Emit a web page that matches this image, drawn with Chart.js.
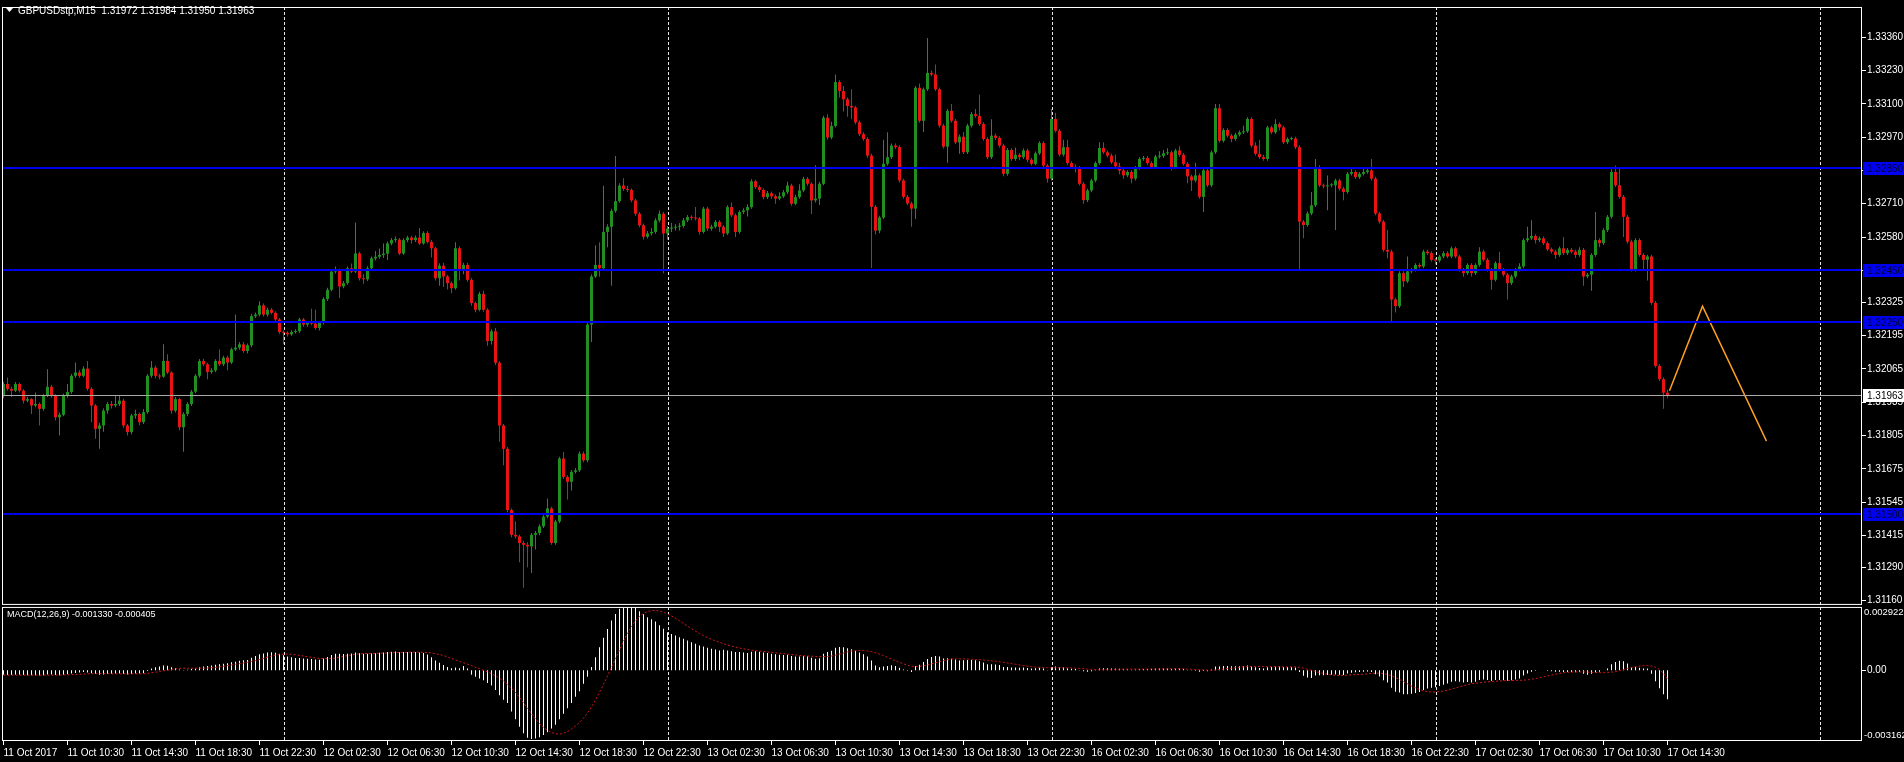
<!DOCTYPE html>
<html>
<head>
<meta charset="utf-8">
<title>GBPUSDstp,M15</title>
<script src="https://cdn.jsdelivr.net/npm/chart.js@4.4.1/dist/chart.umd.min.js"></script>
<style>
  html, body { margin: 0; padding: 0; background: #000; }
  canvas { display: block; }
</style>
</head>
<body>
<canvas id="gbpusdChart" width="1904" height="762"></canvas>
<script>
// M15 bars, prices in pips above 1.3100, open of each bar = previous close
const BASE = 1.31;
const PIP = 0.0001;
const firstOpen = 96.0;
const closes = [
  100.6,98.7,98.0,100.6,98.0,94.1,94.7,92.2,92.8,90.9,
  96.0,99.5,96.0,87.6,88.6,96.0,97.5,103.8,105.1,103.8,
  106.6,98.7,92.2,83.1,84.4,90.2,92.8,92.2,92.8,94.1,
  84.4,81.8,88.3,88.9,85.7,89.6,103.8,107.0,103.8,103.5,
  109.6,105.1,90.2,94.7,83.7,88.9,92.8,97.6,103.8,109.6,
  108.3,105.3,105.9,109.6,108.3,110.9,109.0,114.1,114.8,116.1,
  113.5,115.7,127.1,127.7,131.3,127.7,129.6,128.4,125.8,120.9,
  120.6,120.0,120.9,121.2,125.8,123.8,124.5,124.2,122.5,124.5,
  133.8,137.4,144.5,145.0,138.7,140.0,145.8,144.5,151.6,141.9,
  141.5,145.8,149.7,150.3,151.0,151.5,155.5,156.8,157.0,151.6,
  156.8,157.8,156.8,157.8,155.5,159.6,156.1,153.6,141.9,146.8,
  142.6,140.0,138.0,153.6,145.2,147.1,141.3,132.2,129.6,135.8,
  129.6,117.4,121.2,108.9,84.4,75.3,51.4,41.7,41.1,38.5,
  37.8,37.2,41.7,42.4,45.0,48.8,52.0,38.5,46.9,71.5,
  64.3,62.4,66.3,66.9,73.4,70.8,123.8,142.6,147.1,145.8,
  160.0,162.0,168.2,172.0,178.1,176.8,176.4,172.3,167.1,162.6,
  158.1,159.4,160.0,164.5,167.1,159.4,161.3,161.6,162.0,162.3,
  164.5,165.8,165.5,165.2,160.0,169.1,161.3,162.0,163.9,162.0,
  159.4,169.7,166.5,160.0,167.8,168.4,169.7,179.8,177.5,176.4,
  173.6,175.1,173.9,173.0,173.9,175.5,178.1,171.0,173.6,176.2,
  180.7,178.8,172.3,173.0,178.8,204.6,196.9,201.4,218.5,215.0,
  211.8,209.2,208.6,202.8,198.2,196.3,189.8,169.8,160.5,165.6,
  186.6,189.2,193.7,193.1,180.1,173.7,171.1,169.1,216.3,203.4,
  215.7,222.1,221.5,215.7,201.5,193.3,207.3,203.4,195.0,197.2,
  191.1,201.5,206.0,205.3,202.1,196.3,189.2,197.6,196.7,193.7,
  182.7,192.0,188.5,190.1,189.2,191.8,188.2,186.6,190.7,194.7,
  185.9,180.8,204.1,199.5,190.2,193.1,186.9,185.3,185.0,178.8,
  172.4,176.2,180.1,186.9,192.8,191.1,189.8,187.2,185.6,184.0,
  182.1,183.4,180.8,185.0,188.5,188.9,186.9,185.3,189.4,189.7,
  190.7,191.1,185.3,191.8,190.1,186.6,181.7,180.1,182.1,173.7,
  184.0,178.2,191.1,208.3,195.6,199.8,197.6,196.3,198.0,198.9,
  199.3,204.1,193.7,190.5,189.2,188.5,200.8,198.9,202.1,200.8,
  195.0,196.3,196.5,193.1,164.0,162.7,167.2,170.4,185.3,178.2,
  177.8,178.2,178.2,180.1,176.9,175.6,182.7,183.4,181.4,182.7,
  183.4,184.0,180.8,167.2,164.0,153.0,152.3,133.6,131.0,143.9,
  140.7,144.6,145.2,147.1,146.5,152.3,151.7,149.1,148.8,150.4,
  151.7,150.4,153.6,150.4,145.2,143.9,147.1,143.9,147.1,152.3,
  149.1,145.2,141.3,147.8,145.2,143.3,140.0,142.6,145.2,146.5,
  156.8,157.5,158.4,156.8,157.5,155.6,153.2,152.3,151.0,153.6,
  151.7,153.0,152.3,151.0,153.0,142.6,143.3,151.0,156.8,155.6,
  160.7,165.9,183.4,178.2,173.7,165.9,156.2,145.2,156.8,151.0,
  149.1,150.4,132.3,107.7,102.5,97.2,96.3
];
const highs = [
  101.5,103.1,99.5,101.4,101.2,98.6,95.6,95.0,97.3,93.4,
  96.7,106.4,100.2,96.6,89.5,96.8,100.6,104.5,109.0,106.0,
  107.5,109.6,99.3,92.8,85.5,91.0,93.6,94.0,96.0,96.0,
  94.8,85.0,89.0,90.5,89.5,90.8,104.5,109.6,107.8,104.6,
  116.1,112.2,105.6,95.5,95.2,89.6,93.5,98.3,104.5,110.4,
  110.5,108.9,106.8,110.3,114.1,111.6,111.6,114.8,127.7,117.0,
  117.0,116.4,127.9,128.5,132.9,132.0,130.4,130.3,129.0,126.4,
  121.6,121.2,121.6,122.0,126.5,126.4,125.2,130.0,129.6,125.2,
  134.5,138.2,145.3,146.5,145.6,140.8,146.5,147.7,163.7,152.3,
  143.5,146.6,150.4,152.5,153.5,155.5,156.3,157.6,158.2,157.6,
  157.5,158.5,158.4,158.6,161.5,160.3,160.3,156.8,154.2,147.8,
  148.0,143.2,140.6,156.0,154.4,148.0,148.0,142.0,132.8,136.6,
  137.0,130.2,122.0,122.5,109.5,85.0,76.0,52.0,46.9,41.7,
  39.4,38.8,42.4,43.2,45.8,49.6,55.9,52.7,47.6,72.2,
  74.0,65.0,67.0,67.8,74.2,74.2,124.6,143.4,154.8,156.0,
  178.0,163.0,169.0,189.6,179.0,181.0,178.0,177.0,173.0,167.8,
  163.3,160.4,161.4,165.3,168.4,167.8,162.3,163.6,163.0,163.5,
  165.4,166.6,166.5,169.7,165.8,169.8,169.8,162.8,164.7,164.6,
  162.6,170.4,171.5,167.2,168.5,169.2,170.8,180.6,180.4,178.2,
  177.0,176.0,175.8,174.6,175.5,176.4,179.6,178.8,174.5,178.6,
  181.5,181.4,179.4,186.0,179.6,205.4,206.0,203.0,221.5,219.2,
  217.0,212.5,215.7,209.3,203.5,198.9,197.0,190.5,170.5,166.3,
  196.0,198.9,194.5,194.5,193.8,180.8,174.4,171.8,217.0,218.0,
  216.4,235.7,223.0,225.4,216.4,202.2,208.0,210.0,204.1,198.0,
  199.0,202.2,206.8,208.0,213.7,202.8,197.0,204.0,198.4,197.4,
  194.4,192.8,192.7,193.0,190.8,192.6,192.5,188.9,191.4,195.4,
  195.4,186.6,208.0,206.5,200.2,196.0,196.0,187.6,186.4,185.7,
  179.5,176.9,180.8,187.6,195.0,195.0,191.8,190.5,190.2,187.0,
  184.7,184.1,184.1,185.7,189.2,189.6,189.6,187.6,190.1,191.5,
  192.0,192.7,191.8,192.5,193.5,190.8,187.3,182.4,187.0,182.8,
  184.7,184.7,191.8,210.0,210.0,200.5,200.5,198.3,198.7,199.6,
  201.5,204.8,204.8,195.0,196.0,190.0,201.5,201.5,204.0,202.8,
  201.5,197.0,197.2,197.2,193.8,164.7,168.0,175.6,188.5,186.0,
  178.9,182.0,179.0,180.8,180.8,177.6,183.4,184.6,184.1,183.4,
  184.7,185.4,188.5,181.5,167.9,164.7,160.7,153.0,134.3,144.6,
  144.6,150.4,145.9,147.8,147.8,153.0,153.0,152.4,149.8,151.1,
  152.4,152.4,154.3,154.3,151.1,145.9,147.8,147.8,147.8,154.0,
  153.0,149.8,145.9,148.5,152.3,145.9,144.0,143.3,145.9,147.8,
  157.5,162.0,164.6,159.1,158.2,158.2,156.3,153.9,153.0,154.3,
  158.0,153.7,153.7,153.0,154.0,153.7,144.0,151.7,167.8,157.5,
  161.4,166.6,184.5,185.9,185.3,174.4,166.6,156.9,157.5,157.5,
  151.7,151.1,151.1,133.0,108.4,103.2,98.4
];
const lows = [
  95.0,98.0,95.4,97.5,97.3,93.0,93.5,88.9,91.5,84.4,
  90.2,95.4,95.2,86.3,80.5,88.0,95.2,96.8,103.0,103.0,
  103.2,98.0,85.7,79.2,75.3,82.0,89.0,91.0,91.5,92.0,
  83.5,80.5,81.0,87.0,84.5,85.0,89.0,103.0,102.8,102.5,
  103.0,104.5,89.0,89.5,82.5,74.1,88.0,92.0,97.0,103.0,
  107.5,102.5,104.6,105.2,107.6,107.6,106.0,108.4,113.5,114.0,
  112.8,112.5,115.0,126.4,127.0,127.0,127.0,127.8,125.0,120.2,
  116.1,119.2,119.4,120.3,120.6,123.0,123.0,123.5,121.8,121.5,
  123.8,133.0,136.8,143.8,134.2,138.0,139.4,144.0,144.0,141.0,
  139.8,140.8,145.0,148.8,149.5,149.8,149.0,154.8,155.9,151.0,
  151.0,156.0,155.5,156.1,154.9,155.0,155.5,150.0,141.0,139.0,
  138.5,137.5,136.0,137.4,141.0,143.5,140.5,131.2,128.6,129.0,
  128.8,115.5,116.0,108.0,78.0,68.9,50.5,40.8,40.4,31.0,
  21.0,29.0,26.8,36.0,41.5,44.4,48.2,37.8,37.8,46.2,
  63.5,55.5,59.0,65.6,66.2,70.0,70.0,117.0,142.0,142.5,
  145.0,154.0,139.0,167.5,171.4,176.0,175.6,171.6,166.3,161.8,
  157.0,157.4,158.6,159.3,163.8,143.9,157.0,160.0,160.6,160.6,
  161.6,163.8,164.6,164.5,159.0,159.4,160.4,160.5,161.3,160.0,
  158.0,158.8,165.8,158.0,159.3,167.0,166.0,169.0,176.8,175.6,
  172.8,172.9,173.0,171.0,172.4,173.2,174.8,170.2,170.4,173.0,
  175.5,178.0,167.0,171.5,170.5,178.2,196.0,196.2,200.8,212.5,
  207.0,205.0,204.0,202.0,197.5,195.6,189.0,145.9,159.0,159.5,
  165.0,185.9,188.5,192.4,179.3,173.0,170.4,162.0,165.0,202.6,
  199.0,215.0,220.8,215.0,200.8,192.6,187.0,202.7,194.3,190.5,
  190.4,190.4,200.8,204.6,201.4,195.6,188.5,188.5,195.9,193.0,
  181.7,181.9,187.8,187.8,188.0,188.5,187.2,185.9,186.0,190.0,
  185.2,179.2,180.1,198.8,189.5,189.5,186.2,184.6,183.2,178.1,
  171.0,171.7,175.5,179.4,186.2,190.4,189.1,186.5,184.9,182.5,
  180.8,181.4,179.0,180.1,184.3,187.8,186.2,184.6,184.6,188.7,
  189.0,190.0,184.0,184.6,189.4,185.9,179.0,176.0,179.4,173.0,
  167.8,177.5,177.5,190.4,194.9,194.9,196.9,195.0,195.6,197.3,
  198.2,198.6,193.0,189.8,188.5,187.8,187.8,198.2,198.2,199.6,
  194.3,194.3,195.8,192.4,145.2,157.5,162.0,166.5,169.7,177.5,
  177.1,168.5,177.4,160.7,176.2,172.4,174.9,182.0,180.7,180.7,
  182.0,182.7,180.1,166.5,163.3,152.3,149.7,124.5,128.5,130.3,
  138.5,140.0,143.9,144.5,145.8,145.8,151.0,148.4,147.3,148.1,
  149.7,149.7,149.7,149.7,144.5,142.5,143.2,142.6,143.2,146.4,
  148.4,144.5,137.4,140.6,144.5,142.6,133.6,139.3,141.9,144.5,
  145.8,156.1,156.8,155.5,156.1,154.9,152.5,151.6,149.5,150.3,
  151.0,151.0,151.6,149.8,150.3,139.0,141.9,137.0,150.3,154.0,
  154.9,160.0,165.2,177.5,173.0,158.0,155.5,144.5,144.5,150.3,
  145.0,141.0,131.6,107.0,101.8,90.9,95.0
];

// MACD(12,26,9) main and signal, in units of 0.00001
const macdMain = [
  -20,-21,-21,-20,-20,-21,-22,-23,-23,-24,
  -22,-19,-19,-21,-22,-20,-18,-15,-12,-10,
  -8,-10,-13,-17,-20,-19,-17,-16,-15,-14,
  -17,-19,-17,-15,-15,-13,-3,8,14,18,
  22,21,14,11,4,2,3,6,9,14,
  18,20,22,26,28,31,33,37,40,44,
  46,48,58,66,74,78,82,83,81,76,
  70,64,60,57,57,55,54,52,50,49,
  55,62,71,76,76,75,77,78,82,79,
  76,76,78,79,81,82,85,86,87,83,
  84,85,84,84,82,80,73,60,45,35,
  25,15,10,13,10,20,8,-20,-30,-38,
  -45,-58,-70,-90,-115,-135,-150,-190,-225,-260,
  -290,-310,-316,-314,-308,-298,-285,-268,-250,-225,
  -200,-175,-150,-122,-96,-62,-29,15,60,106,
  150,191,230,259,284,289,292,291,289,272,
  258,245,235,225,208,192,176,168,160,152,
  146,138,130,123,115,110,104,100,96,92,
  95,92,88,84,84,82,80,86,88,86,
  82,80,77,74,72,71,72,66,64,64,
  66,65,58,54,56,76,84,90,104,108,
  106,102,97,90,82,74,64,45,22,14,
  18,20,24,20,12,4,-2,-8,20,26,
  38,52,62,66,64,55,56,54,50,45,
  46,48,48,46,42,36,28,28,27,25,
  15,15,13,13,12,13,11,9,10,12,
  8,2,15,18,14,14,10,7,6,2,
  -4,-6,-4,2,8,10,10,9,8,7,
  5,5,3,4,5,6,6,7,8,8,
  9,9,6,8,8,6,2,-1,-2,-6,
  -3,-4,4,18,18,20,20,19,19,19,
  20,22,18,14,11,9,14,15,18,18,
  16,15,15,13,-8,-25,-33,-35,-24,-22,
  -22,-21,-20,-19,-20,-21,-15,-11,-9,-7,
  -6,-5,-7,-18,-28,-45,-56,-80,-98,-102,
  -110,-110,-108,-104,-100,-90,-84,-80,-78,-72,
  -66,-60,-52,-50,-52,-56,-54,-56,-52,-44,
  -42,-44,-48,-44,-44,-46,-48,-46,-42,-38,
  -24,-14,-6,-2,0,0,-2,-4,-6,-6,
  -7,-8,-8,-9,-8,-16,-20,-16,-10,-6,
  0,8,28,38,44,42,32,14,16,12,
  8,8,-16,-50,-82,-110,-133
];
const macdSignal = [
  -22,-22,-22,-22,-22,-22,-22,-22,-22,-22,
  -22,-22,-22,-22,-22,-21,-21,-20,-19,-18,
  -17,-16,-15,-15,-15,-15,-15,-16,-16,-16,
  -16,-16,-16,-16,-16,-16,-14,-11,-8,-5,
  -2,1,4,7,9,10,10,10,10,10,
  10,11,12,14,16,19,22,25,28,31,
  34,37,41,45,50,55,61,66,70,73,
  75,75,74,72,69,66,63,60,57,55,
  54,54,55,57,60,64,68,71,74,76,
  77,78,78,78,79,79,80,81,82,82,
  83,83,84,84,84,83,82,80,77,73,
  68,62,55,48,41,35,29,22,14,7,
  0,-7,-15,-25,-36,-49,-64,-82,-102,-125,
  -150,-175,-200,-224,-245,-262,-276,-286,-292,-294,
  -290,-282,-270,-256,-240,-220,-196,-168,-136,-101,
  -64,-26,14,54,94,134,170,202,228,248,
  262,271,275,276,273,268,260,250,240,228,
  216,204,192,181,170,160,151,143,136,129,
  123,117,112,107,103,99,96,93,91,89,
  87,85,83,81,79,77,75,73,71,69,
  67,66,65,64,63,63,64,66,70,75,
  80,85,89,91,92,91,89,86,81,75,
  68,60,52,44,37,30,24,19,17,18,
  21,25,30,35,40,45,49,52,53,53,
  53,52,51,50,49,48,46,44,42,40,
  37,34,31,28,25,22,19,17,15,14,
  13,12,12,12,12,12,12,11,10,9,
  8,6,5,4,3,3,3,3,4,5,
  6,6,6,6,6,6,6,6,6,6,
  7,7,7,7,7,7,6,5,4,3,
  2,1,1,2,4,6,8,10,12,14,
  16,17,18,18,18,18,17,17,17,16,
  16,16,16,16,14,10,5,0,-5,-10,
  -14,-18,-21,-23,-23,-23,-22,-21,-20,-19,
  -18,-16,-14,-13,-13,-15,-19,-25,-33,-42,
  -52,-62,-72,-80,-88,-94,-98,-100,-100,-98,
  -95,-91,-86,-81,-76,-71,-66,-62,-59,-57,
  -55,-53,-51,-50,-49,-48,-47,-47,-46,-46,
  -45,-44,-41,-38,-34,-30,-26,-22,-18,-14,
  -11,-9,-8,-7,-7,-7,-8,-9,-10,-11,
  -11,-10,-8,-5,-1,4,9,13,17,20,
  22,22,20,14,4,-15,-40
];

// one time label every 16 bars (4 hours)
const timeLabels = [
  '11 Oct 2017', '11 Oct 10:30', '11 Oct 14:30', '11 Oct 18:30', '11 Oct 22:30',
  '12 Oct 02:30', '12 Oct 06:30', '12 Oct 10:30', '12 Oct 14:30', '12 Oct 18:30', '12 Oct 22:30',
  '13 Oct 02:30', '13 Oct 06:30', '13 Oct 10:30', '13 Oct 14:30', '13 Oct 18:30', '13 Oct 22:30',
  '16 Oct 02:30', '16 Oct 06:30', '16 Oct 10:30', '16 Oct 14:30', '16 Oct 18:30', '16 Oct 22:30',
  '17 Oct 02:30', '17 Oct 06:30', '17 Oct 10:30', '17 Oct 14:30'
];
const labelStep = 16;
const priceTicks = [
  1.33360, 1.33230, 1.33100, 1.32970, 1.32840, 1.32710, 1.32580, 1.32450, 1.32325,
  1.32195, 1.32065, 1.31935, 1.31805, 1.31675, 1.31545, 1.31415, 1.31290, 1.31160
];
const macdMax = 0.002922;
const macdMin = -0.003162;
const levelPrices = [1.32850, 1.32450, 1.32250, 1.31500];
const bidPrice = 1.31963;
const daySeparatorBars = [70, 166, 262, 358, 454];
const forecastBars = [416.5, 424.75, 440.75];
const forecastPrices = [1.31980, 1.32310, 1.31783];

const headerText = 'GBPUSDstp,M15  1.31972 1.31984 1.31950 1.31963';
const macdText = 'MACD(12,26,9) -0.001330 -0.000405';

const opens = [firstOpen].concat(closes.slice(0, -1));
const toPrice = p => +(BASE + p * PIP).toFixed(5);
const BULL = '#1f8f1f';
const BEAR = '#e81414';
const candleColors = closes.map((c, i) => (c >= opens[i] ? BULL : BEAR));
const bodyData = closes.map((c, i) => ({ x: i, y: [toPrice(opens[i]), toPrice(c)] }));
const wickData = closes.map((c, i) => ({ x: i, y: [toPrice(lows[i]), toPrice(highs[i])] }));
const macdData = macdMain.map((v, i) => ({ x: i, y: v * 1e-5 }));
const signalData = macdSignal.map((v, i) => ({ x: i, y: v * 1e-5 }));
const forecastData = forecastBars.map((b, i) => ({ x: b, y: forecastPrices[i] }));

const FONT = "'Liberation Sans', Arial, sans-serif";
Chart.defaults.font.family = FONT;
Chart.defaults.font.size = 10;
Chart.defaults.color = '#ffffff';

const mt4Overlay = {
  id: 'mt4Overlay',
  beforeDatasetsDraw(chart) {
    const { ctx, chartArea, scales } = chart;
    ctx.save();
    ctx.strokeStyle = '#e8e8e8';
    ctx.lineWidth = 1;
    ctx.setLineDash([3, 2]);
    daySeparatorBars.forEach(b => {
      const x = Math.round(scales.x.getPixelForValue(b)) + 0.5;
      ctx.beginPath();
      ctx.moveTo(x, chartArea.top);
      ctx.lineTo(x, chartArea.bottom);
      ctx.stroke();
    });
    ctx.restore();
  },
  afterDatasetsDraw(chart) {
    const { ctx, chartArea, scales } = chart;
    const y = scales.y, y2 = scales.y2;
    ctx.save();
    ctx.strokeStyle = '#0000f0';
    ctx.lineWidth = 2;
    levelPrices.forEach(p => {
      const py = Math.round(y.getPixelForValue(p));
      ctx.beginPath();
      ctx.moveTo(chartArea.left, py);
      ctx.lineTo(chartArea.right, py);
      ctx.stroke();
    });
    ctx.strokeStyle = '#a8a8a8';
    ctx.lineWidth = 1;
    const by = Math.round(y.getPixelForValue(bidPrice)) + 0.5;
    ctx.beginPath();
    ctx.moveTo(chartArea.left, by);
    ctx.lineTo(chartArea.right, by);
    ctx.stroke();

    // window frames
    ctx.strokeStyle = '#ffffff';
    const l = chartArea.left + 0.5, r = chartArea.right - 0.5;
    ctx.strokeRect(l, y.top + 0.5, r - l, y.bottom - y.top - 1);
    ctx.strokeRect(l, y2.top + 2.5, r - l, y2.bottom - y2.top - 3);
    ctx.restore();
  },
  afterDraw(chart) {
    const { ctx, chartArea, scales } = chart;
    const y = scales.y, y2 = scales.y2;
    const ax = chartArea.right;
    ctx.save();
    ctx.font = '10px ' + FONT;
    ctx.textBaseline = 'middle';
    ctx.textAlign = 'left';

    levelPrices.forEach(p => {
      const py = Math.round(y.getPixelForValue(p));
      ctx.fillStyle = '#0000f0';
      ctx.fillRect(ax + 1, py - 6, 42, 13);
      ctx.fillStyle = '#000038';
      ctx.fillText(p.toFixed(5), ax + 5, py + 1);
    });
    const by = Math.round(y.getPixelForValue(bidPrice));
    ctx.fillStyle = '#ffffff';
    ctx.fillRect(ax + 1, by - 6, 42, 13);
    ctx.fillStyle = '#000000';
    ctx.fillText(bidPrice.toFixed(5), ax + 5, by + 1);

    // MACD window scale
    ctx.fillStyle = '#ffffff';
    ctx.strokeStyle = '#ffffff';
    ctx.font = '9.5px ' + FONT;
    ctx.textBaseline = 'top';
    ctx.fillText(macdMax.toFixed(6), ax + 2, y2.getPixelForValue(macdMax) + 1);
    ctx.textBaseline = 'bottom';
    ctx.fillText(macdMin.toFixed(6), ax + 2, y2.getPixelForValue(macdMin) + 1);
    const zy = Math.round(y2.getPixelForValue(0)) + 0.5;
    ctx.beginPath();
    ctx.moveTo(ax, zy);
    ctx.lineTo(ax + 4, zy);
    ctx.stroke();
    ctx.textBaseline = 'middle';
    ctx.font = '10px ' + FONT;
    ctx.fillText('0.00', ax + 5, zy);

    // window titles
    ctx.beginPath();
    ctx.moveTo(chartArea.left + 4, 8);
    ctx.lineTo(chartArea.left + 11, 8);
    ctx.lineTo(chartArea.left + 7.5, 12);
    ctx.closePath();
    ctx.fill();
    ctx.font = '10px ' + FONT;
    ctx.fillText(headerText, chartArea.left + 16, 11);
    ctx.font = '9px ' + FONT;
    ctx.fillText(macdText, chartArea.left + 5, y2.top + 10);
    ctx.restore();
  }
};

const ctx = document.getElementById('gbpusdChart');
new Chart(ctx, {
  type: 'bar',
  data: {
    datasets: [
      {
        label: 'wicks',
        data: wickData,
        yAxisID: 'y',
        backgroundColor: candleColors,
        barThickness: 1,
        grouped: false,
        inflateAmount: 0,
        order: 2
      },
      {
        label: 'bodies',
        data: bodyData,
        yAxisID: 'y',
        backgroundColor: candleColors,
        barThickness: 3,
        minBarLength: 1,
        grouped: false,
        inflateAmount: 0,
        order: 1
      },
      {
        label: 'MACD',
        data: macdData,
        yAxisID: 'y2',
        backgroundColor: '#ffffff',
        barThickness: 1,
        grouped: false,
        inflateAmount: 0,
        order: 3
      },
      {
        type: 'line',
        label: 'Signal',
        data: signalData,
        yAxisID: 'y2',
        borderColor: '#d01818',
        borderWidth: 1,
        borderDash: [2, 2],
        pointRadius: 0,
        tension: 0,
        order: 0
      },
      {
        type: 'line',
        label: 'Forecast',
        data: forecastData,
        yAxisID: 'y',
        borderColor: '#ffa020',
        borderWidth: 1.5,
        pointRadius: 0,
        tension: 0,
        order: 0
      }
    ]
  },
  options: {
    responsive: false,
    animation: false,
    events: [],
    layout: {
      padding: { left: 2, top: 2, right: 0, bottom: 0 },
      autoPadding: false
    },
    plugins: {
      legend: { display: false },
      tooltip: { enabled: false }
    },
    scales: {
      x: {
        type: 'linear',
        offset: false,
        min: -0.375,
        max: 464.625,
        afterBuildTicks: scale => {
          scale.ticks = timeLabels.map((_, k) => ({ value: k * labelStep }));
        },
        afterFit: scale => { scale.height = 21; },
        ticks: {
          callback: (v, i) => timeLabels[i],
          align: 'start',
          autoSkip: false,
          maxRotation: 0,
          minRotation: 0,
          padding: 2,
          color: '#ffffff'
        },
        grid: { drawOnChartArea: false, offset: false, tickLength: 4, tickColor: '#ffffff' },
        border: { display: false }
      },
      y: {
        type: 'linear',
        position: 'right',
        stack: 'panes',
        stackWeight: 602,
        min: 1.311432,
        max: 1.334784,
        afterBuildTicks: scale => {
          scale.ticks = priceTicks.map(v => ({ value: v }));
        },
        afterFit: scale => { scale.width = 42; },
        ticks: {
          callback: v => v.toFixed(5),
          autoSkip: false,
          padding: 1,
          color: '#ffffff'
        },
        grid: { drawOnChartArea: false, tickLength: 4, tickColor: '#ffffff' },
        border: { display: false }
      },
      y2: {
        type: 'linear',
        position: 'right',
        stack: 'panes',
        stackWeight: 137,
        min: -0.0032535,
        max: 0.0030135,
        afterFit: scale => { scale.width = 42; },
        ticks: { display: false },
        grid: { display: false },
        border: { display: false }
      }
    }
  },
  plugins: [mt4Overlay]
});
</script>
</body>
</html>
